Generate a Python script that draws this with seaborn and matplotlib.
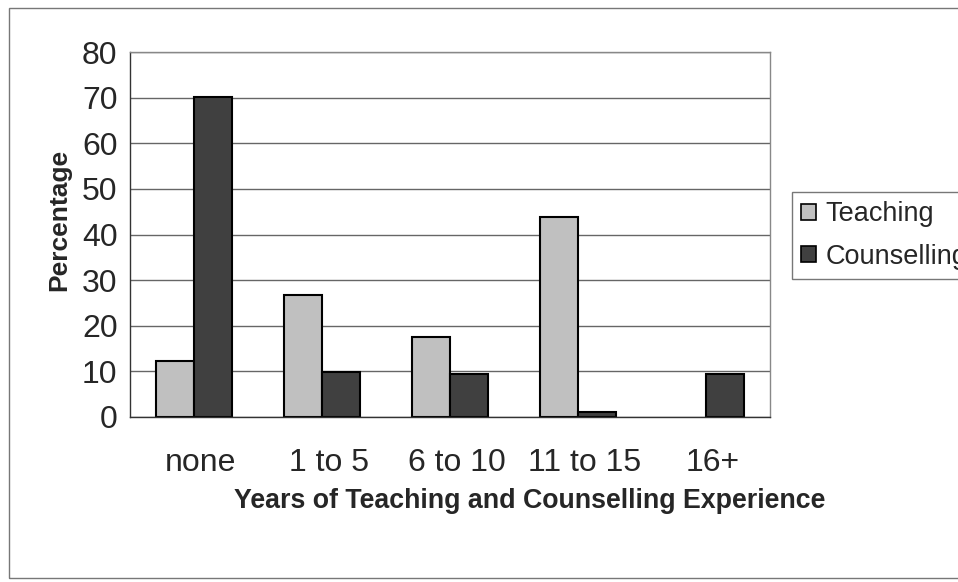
import matplotlib
matplotlib.use("Agg")
import matplotlib.pyplot as plt
from matplotlib.patches import Rectangle
from matplotlib.transforms import ScaledTranslation
import pandas as pd
import seaborn as sns

# values
categories = ["none", "1 to 5", "6 to 10", "11 to 15", "16+"]
teaching = [12.3, 26.8, 17.6, 43.9, 0.0]
counselling = [70.2, 9.9, 9.4, 1.2, 9.4]
series = ["Teaching", "Counselling"]
colors = ["#c0c0c0", "#404040"]

df = pd.DataFrame({
    "cat": categories * 2,
    "val": teaching + counselling,
    "series": [series[0]] * len(categories) + [series[1]] * len(categories),
})

sns.set_style("white")
plt.rcParams["font.family"] = ["Liberation Sans", "DejaVu Sans"]

fig = plt.figure(figsize=(9.58, 5.82), dpi=100)
ax = fig.add_axes([130 / 958, 1 - 417 / 582, 640 / 958, 365 / 582])

sns.barplot(data=df, x="cat", y="val", hue="series", order=categories,
            hue_order=series, palette=colors, width=0.59, gap=0,
            edgecolor="black", linewidth=1.5, ax=ax, legend=False)
# empty bars draw nothing in the original
for p in ax.patches:
    if p.get_height() == 0:
        p.set_visible(False)

ax.set_ylim(0, 80)
ax.set_xlim(-0.5, len(categories) - 0.5)
ax.set_yticks(range(0, 81, 10))
ax.yaxis.grid(True, color="#666666", linewidth=1)
ax.set_axisbelow(True)
ax.set_xticks([i - 0.5 for i in range(len(categories) + 1)], minor=True)
ax.set_xticks(range(len(categories)))
ax.set_xticklabels(categories)
ax.tick_params(axis="x", which="major", length=0, pad=22, labelsize=23)
ax.tick_params(axis="x", which="minor", length=6, direction="out", color="#333333")
ax.tick_params(axis="y", length=6, direction="out", color="#333333", labelsize=23, pad=3)
shift = ScaledTranslation(7 / 100, 0, fig.dpi_scale_trans)
for lbl in ax.get_xticklabels():
    lbl.set_transform(lbl.get_transform() + shift)

for s in ["top", "right"]:
    ax.spines[s].set_color("#888888")
for s in ["left", "bottom"]:
    ax.spines[s].set_color("#333333")
for s in ax.spines.values():
    s.set_linewidth(1)

ax.set_xlabel("Years of Teaching and Counselling Experience", fontsize=19.3,
              fontweight="bold")
ax.xaxis.set_label_coords((529.5 - 130) / 640, (417 - 488) / 365)
ax.set_ylabel("Percentage", fontsize=19, fontweight="bold")
ax.yaxis.set_label_coords((71 - 130) / 640, (417 - 220) / 365)

handles = [Rectangle((0, 0), 1, 1, facecolor=c, edgecolor="black", linewidth=1.2)
           for c in colors]
leg = fig.legend(handles, series, loc="upper left",
                 bbox_to_anchor=(792 / 958, 1 - 192 / 582), fontsize=19.5,
                 frameon=True, fancybox=False, edgecolor="#555555",
                 handlelength=0.55, handleheight=0.55, handletextpad=0.35,
                 labelspacing=0.6, borderpad=0.35, borderaxespad=0)
leg.get_frame().set_linewidth(1)

fig.patches.append(Rectangle((9 / 958, 4 / 582), 1.2, 1 - 12 / 582,
                             transform=fig.transFigure, fill=False,
                             edgecolor="#777777", linewidth=1))

fig.savefig("out.png", dpi=100)
